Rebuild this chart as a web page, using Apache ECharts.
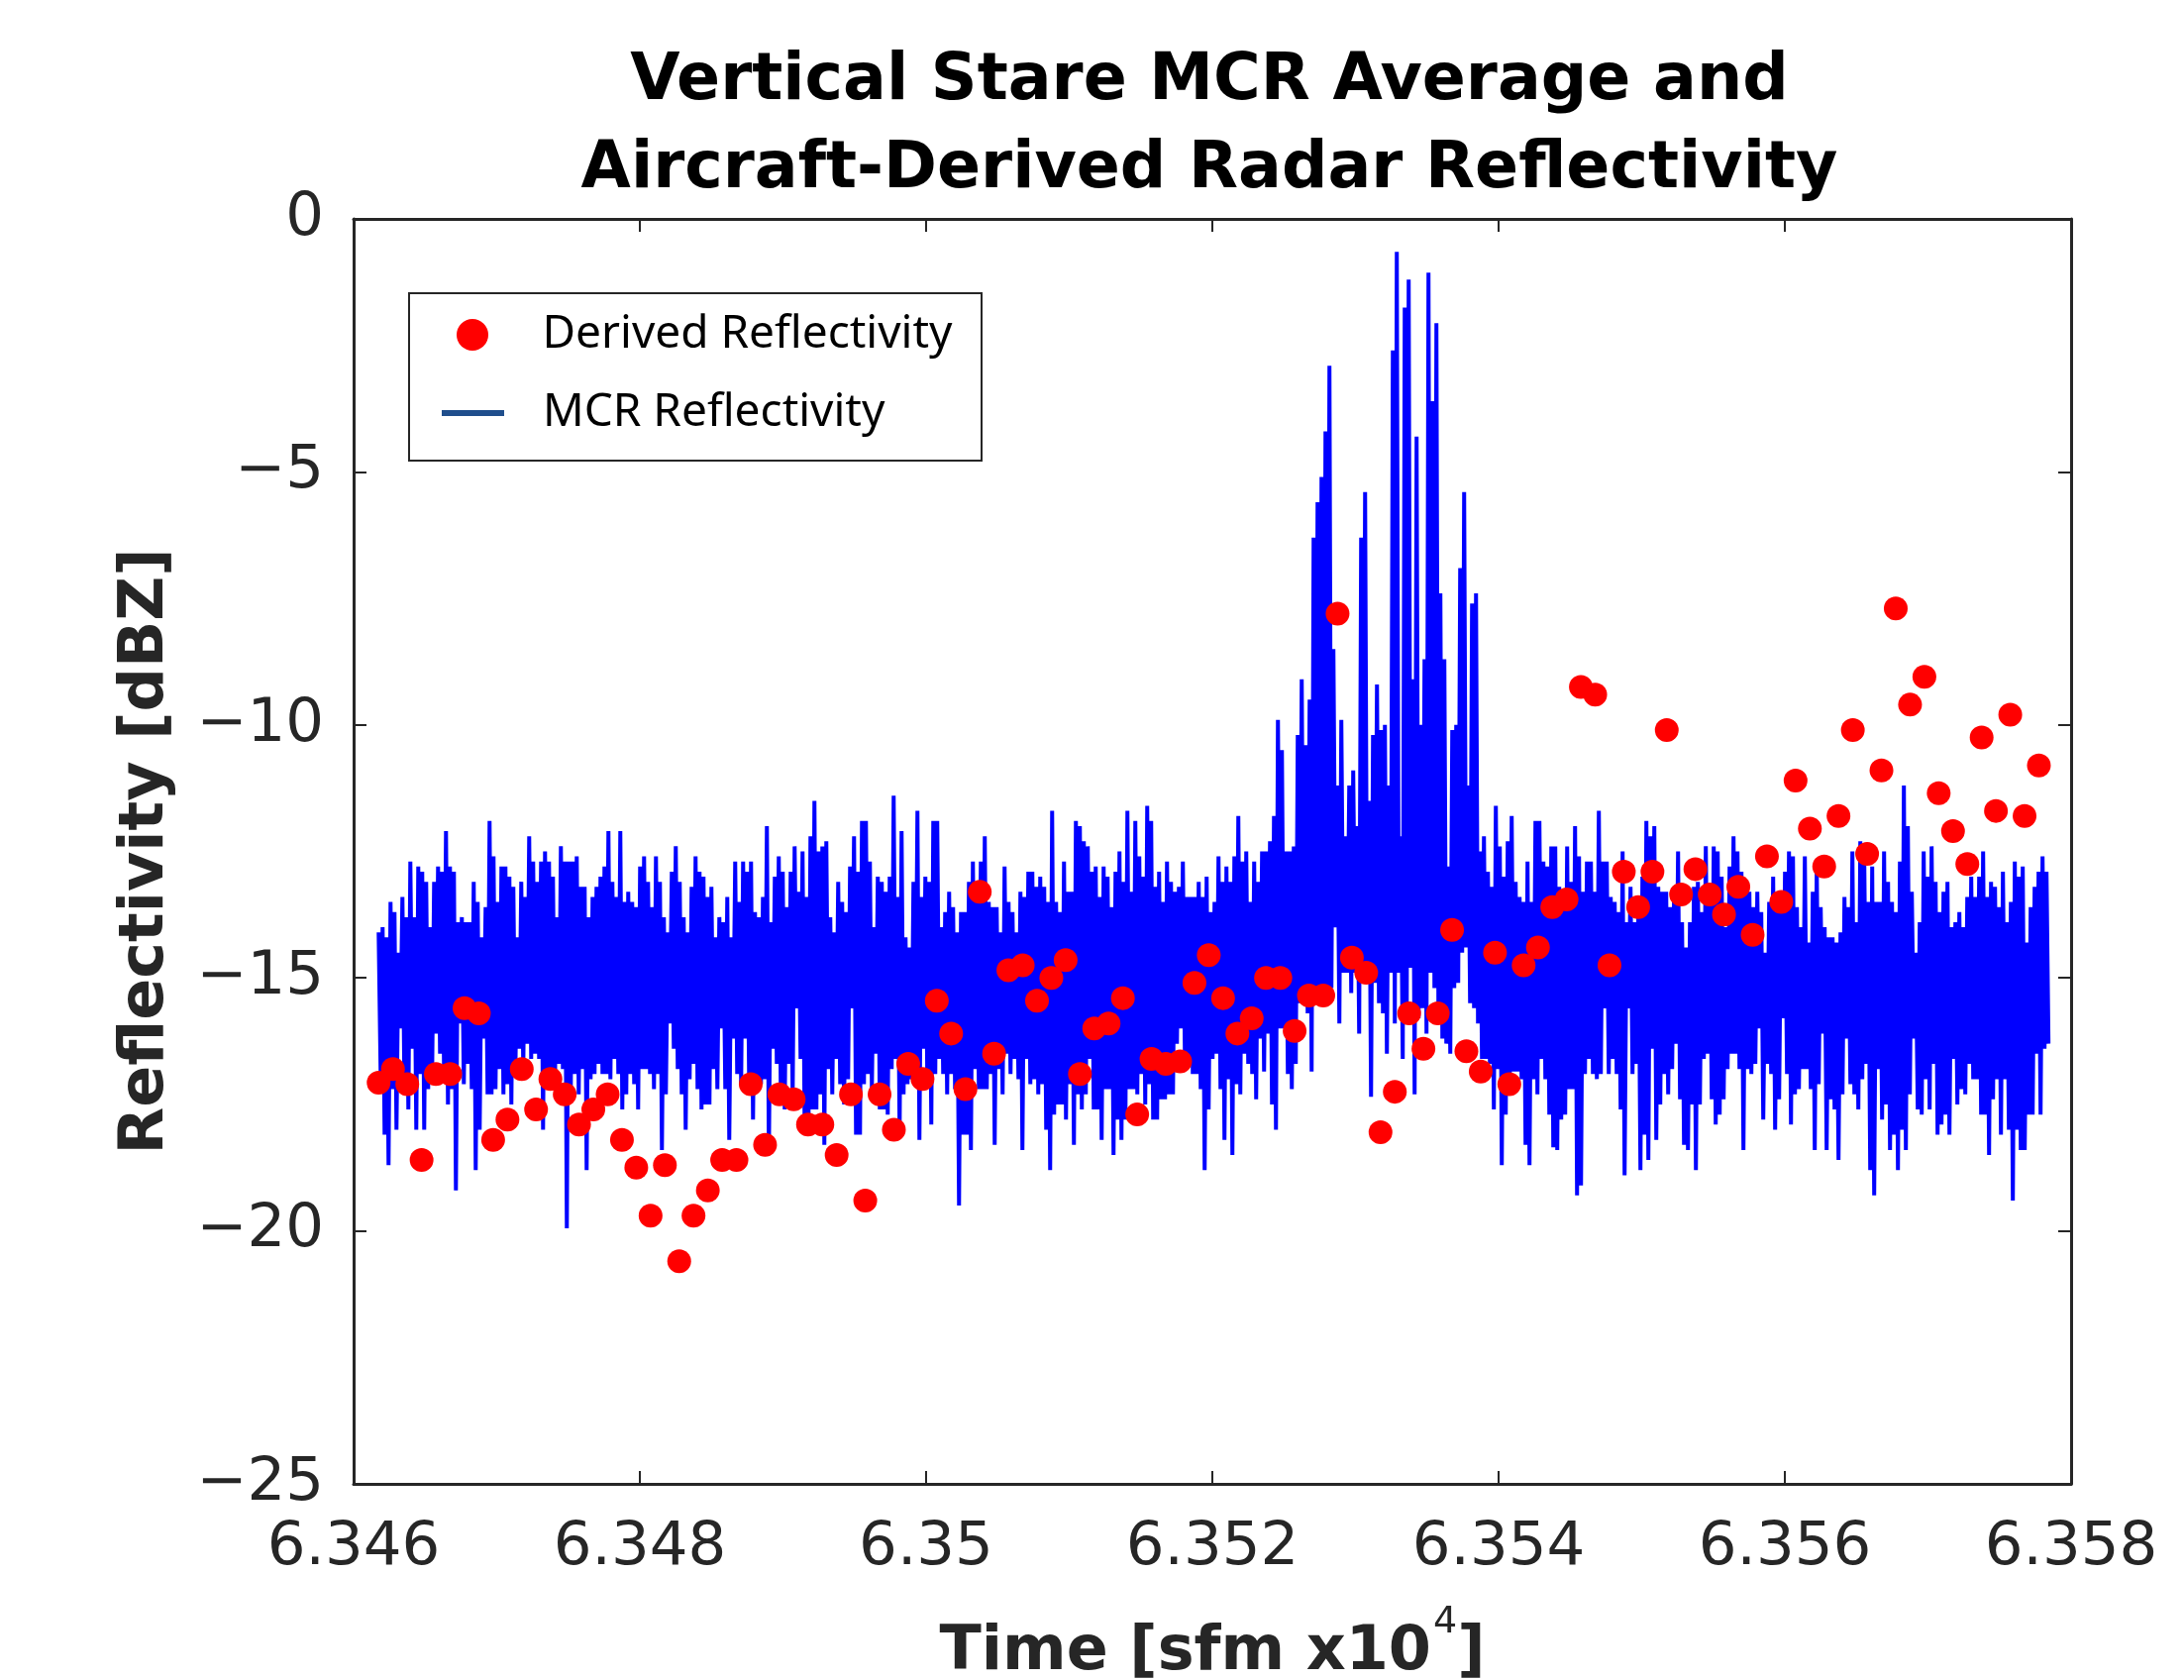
<!DOCTYPE html>
<html>
<head>
<meta charset="utf-8">
<script src="https://cdn.jsdelivr.net/npm/echarts@6/dist/echarts.min.js"></script>
<style>
html,body{margin:0;padding:0;background:#ffffff;}
#chart{width:2205px;height:1696px;}
</style>
</head>
<body>
<div id="chart"></div>
<script>
// ---------------- DATA ----------------
// time axis (seconds from midnight), labels shown in units of 1e4 sfm
const xMin = 63460, xMax = 63580, xInterval = 20;
const yMin = -25, yMax = 0, yInterval = 5;

// aircraft-derived reflectivity, one value per second
const derivedStartSfm = 63461.75;
const derivedStepSec = 1.0;
const derivedValues = [
-17.07,-16.8,-17.1,-18.6,-16.9,-16.9,-15.6,-15.7,-18.2,-17.8,
-16.8,-17.6,-17.0,-17.3,-17.9,-17.6,-17.3,-18.2,-18.75,-19.7,
-18.7,-20.6,-19.7,-19.2,-18.6,-18.6,-17.1,-18.3,-17.3,-17.4,
-17.9,-17.9,-18.5,-17.3,-19.4,-17.3,-18.0,-16.7,-17.0,-15.45,
-16.1,-17.2,-13.3,-16.5,-14.85,-14.75,-15.45,-15.0,-14.65,-16.9,
-16.0,-15.9,-15.4,-17.7,-16.6,-16.7,-16.65,-15.1,-14.55,-15.4,
-16.1,-15.8,-15.0,-15.0,-16.05,-15.35,-15.35,-7.8,-14.6,-14.9,
-18.05,-17.25,-15.7,-16.4,-15.7,-14.05,-16.45,-16.85,-14.5,-17.1,
-14.75,-14.4,-13.6,-13.45,-9.25,-9.4,-14.75,-12.9,-13.6,-12.9,
-10.1,-13.35,-12.85,-13.35,-13.75,-13.2,-14.15,-12.6,-13.5,-11.1,
-12.05,-12.8,-11.8,-10.1,-12.55,-10.9,-7.7,-9.6,-9.05,-11.35,
-12.1,-12.75,-10.25,-11.7,-9.8,-11.8,-10.8
];

// MCR reflectivity: per sample interval, the high and low excursion of the trace
const mcrStartSfm = 63461.75;
const mcrStepSec = 0.2768;
const mcrHigh = [
-14.1,-14.0,-14.2,-13.5,-13.7,-14.5,-13.4,-13.8,-12.7,-13.8,
-12.8,-12.9,-13.1,-14.0,-13.1,-12.8,-12.9,-12.1,-12.8,-12.9,
-13.9,-13.8,-13.9,-13.9,-13.1,-13.5,-14.2,-13.6,-11.9,-12.6,
-13.5,-12.8,-12.8,-13.0,-13.2,-14.2,-13.1,-13.4,-12.2,-12.7,
-13.1,-12.7,-12.5,-12.7,-13.0,-13.8,-12.4,-12.7,-12.7,-12.7,
-12.6,-13.2,-13.2,-13.8,-13.4,-13.2,-13.0,-12.8,-12.1,-13.1,
-13.4,-12.1,-13.5,-13.3,-13.5,-13.6,-12.8,
-12.6,-13.1,-13.6,-12.6,-13.1,-13.8,-14.1,-12.9,-12.4,-13.1,
-13.8,-14.1,-13.2,-12.6,-12.9,-13.0,-13.4,-13.2,-14.2,-13.8,
-13.9,-13.4,-14.2,-12.7,-13.5,-12.7,-12.9,-12.7,-13.7,-13.8,
-13.4,-12.0,-13.9,-13.0,-12.6,-12.9,-13.6,-12.9,-12.4,-13.3,
-12.5,-13.4,-12.2,-11.5,-12.5,-12.4,-12.3,-13.8,-14.1,-13.1,
-13.5,-13.7,-12.8,-12.2,-12.9,-11.9,-11.9,-12.7,-14.0,-13.0,
-13.1,-13.3,-13.0,-11.4,-13.4,-12.1,-14.2,-14.4,-13.1,-11.7,
-13.4,-13.0,-13.1,-11.9,
-11.9,-14.0,-13.7,-13.3,-13.6,-14.1,-13.7,-13.7,-13.1,-12.7,
-13.1,-12.7,-12.2,-13.5,-13.6,-13.6,-14.1,-12.8,-13.5,-13.7,
-14.1,-13.3,-13.4,-12.9,-12.9,-13.2,-13.0,-13.2,-13.5,-11.7,
-13.5,-13.7,-12.7,-13.3,-13.3,-11.9,-12.0,-12.3,-12.4,-12.9,
-12.8,-13.4,-12.8,-13.0,-13.6,-12.9,-12.5,-13.1,-11.7,-13.3,
-11.9,-12.6,-13.0,-11.6,-11.9,-13.2,-12.9,-13.5,-12.7,-13.1,
-13.3,-13.2,-12.7,-13.4,-13.4,-13.4,-13.1,-13.4,-13.0,-13.7,
-13.5,-12.6,-13.1,-12.8,-13.1,-12.6,-11.8,-12.7,-12.5,-13.5,
-12.7,
-13.1,-12.5,-12.5,-12.3,-11.8,-9.9,-10.5,-12.5,-12.5,-12.4,
-10.2,-9.1,-10.4,-9.5,-6.3,-5.6,-5.1,-4.2,-2.9,-8.5,
-11.2,-9.9,-12.2,-11.2,-10.9,-12.0,-6.3,-5.4,-11.5,-10.2,
-9.2,-10.1,-10.0,-11.2,-2.6,-0.65,-12.2,-1.75,-1.2,-9.1,
-4.3,-10.0,-8.7,-1.06,-3.6,-2.06,-7.4,-8.7,-12.8,-10.1,
-10.0,-6.9,-5.4,-11.2,-7.6,-7.4,-12.5,-12.2,-12.9,-13.2,
-11.6,-12.4,-13.0,-12.3,-11.8,-13.1,-13.4,-13.5,-12.7,-13.5,
-11.9,-11.9,-12.7,-12.8,-12.4,
-12.4,-13.2,-13.5,-12.4,-13.1,-12.0,-12.6,-13.3,-12.7,-12.7,
-13.3,-11.7,-12.7,-12.7,-13.4,-13.5,-13.7,-12.5,-13.9,-13.2,
-13.9,-13.6,-13.0,-11.9,-12.2,-12.0,-13.2,-13.3,-13.3,-13.6,
-13.3,-12.5,-13.9,-14.4,-13.9,-13.2,-13.1,-13.7,-12.4,-13.3,
-12.4,-12.5,-13.0,-14.0,-12.8,-12.2,-12.5,-12.9,-13.3,-13.3,
-13.6,-13.3,-13.7,-14.5,-13.5,-13.0,-13.7,-13.5,-12.9,-12.5,
-12.6,-13.6,-14.0,
-12.6,-14.3,-13.3,-12.8,-13.6,-14.0,-14.2,-14.2,-14.3,-14.1,
-13.4,-13.6,-12.5,-13.9,-12.3,-12.7,-13.5,-12.8,-13.5,-13.5,
-12.5,-13.1,-13.5,-13.7,-12.7,-11.2,-12.0,-13.3,-14.5,-13.9,
-12.5,-13.0,-12.4,-13.1,-13.7,-13.3,-13.1,-14.0,-13.9,-13.7,
-14.0,-13.4,-13.0,-13.4,-13.0,-12.5,-13.4,-13.1,-13.2,-13.6,
-12.9,-13.9,-13.5,-12.7,-13.0,-12.8,-14.3,-13.6,-13.2,-12.9,
-12.6,-12.9
];
const mcrLow = [
-16.9,-18.1,-18.7,-17.2,-18.0,-16.0,-17.1,-17.6,-16.4,-18.0,
-16.9,-18.0,-17.2,-16.9,-16.1,-16.5,-16.8,-17.5,-17.2,-19.2,
-15.9,-17.1,-16.7,-17.2,-18.8,-18.0,-16.2,-17.3,-17.3,-17.2,
-16.8,-17.3,-17.1,-17.5,-16.9,-16.4,-16.8,-16.3,-16.6,-16.5,
-16.6,-18.0,-17.2,-16.9,-17.1,-16.7,-16.8,-19.95,-17.2,-16.9,
-17.3,-16.8,-18.8,-17.0,-16.9,-16.7,-16.9,-16.9,-17.0,-16.6,
-16.9,-17.6,-17.3,-16.9,-17.1,-17.6,-16.8,
-16.8,-16.9,-17.2,-16.9,-18.4,-17.3,-15.9,-16.4,-16.8,-17.3,
-18.0,-17.0,-16.7,-17.2,-17.6,-17.5,-17.5,-16.8,-17.2,-16.0,
-17.2,-18.2,-16.2,-16.9,-17.1,-16.2,-16.9,-17.8,-17.0,-17.1,
-17.0,-18.5,-16.4,-16.7,-17.2,-17.6,-16.7,-17.4,-15.6,-16.6,
-17.7,-17.9,-17.6,-17.6,-17.3,-18.3,-16.8,-17.3,-16.6,-17.1,
-17.5,-17.0,-15.6,-18.1,-18.1,-17.1,-16.9,-17.2,-16.5,-17.6,
-17.6,-17.7,-16.8,-16.6,-18.1,-17.3,-17.1,-17.0,-16.6,-18.2,
-16.4,-17.1,-17.9,-16.9,
-16.6,-16.9,-17.3,-16.9,-17.2,-19.5,-18.1,-18.1,-18.4,-16.8,
-17.2,-17.2,-17.2,-16.9,-18.3,-16.8,-17.3,-16.5,-16.9,-16.6,
-17.0,-18.4,-16.6,-17.1,-17.0,-17.3,-17.1,-18.0,-18.8,-17.7,
-17.5,-17.5,-17.8,-17.1,-18.3,-17.3,-17.6,-17.3,-16.6,-17.6,
-17.6,-18.2,-17.2,-17.2,-18.5,-17.8,-18.2,-17.8,-17.2,-17.2,
-17.3,-16.9,-17.5,-17.1,-17.8,-17.8,-17.4,-17.4,-17.3,-17.3,
-16.3,-16.0,-16.5,-16.6,-16.9,-16.9,-17.2,-18.8,-17.6,-16.6,
-16.5,-17.2,-18.2,-17.0,-18.5,-17.1,-17.3,-16.5,-16.7,-16.9,
-17.4,
-16.2,-16.85,-16.1,-17.5,-18.0,-16.0,-16.0,-16.9,-17.2,-16.7,
-15.5,-15.5,-15.7,-16.85,-15.2,-15.2,-15.2,-15.2,-15.2,-14.0,
-15.9,-14.9,-14.9,-15.3,-14.9,-16.1,-14.9,-14.9,-17.35,-15.1,
-15.5,-15.7,-16.5,-14.9,-15.9,-14.9,-16.6,-15.8,-14.8,-17.3,
-15.8,-15.6,-16.1,-14.9,-15.2,-15.5,-16.2,-16.3,-16.5,-15.2,
-15.1,-14.5,-14.4,-15.5,-15.6,-15.9,-16.6,-16.6,-16.7,-17.6,
-16.8,-18.7,-17.7,-17.1,-16.85,-16.85,-17.0,-18.3,-18.7,-17.0,
-17.3,-16.6,-17.0,-17.7,-18.35,
-18.4,-17.8,-17.7,-17.2,-17.2,-19.3,-19.1,-16.9,-16.6,-16.9,
-17.0,-16.9,-15.6,-16.9,-16.6,-16.9,-17.6,-18.9,-15.6,-16.9,
-16.7,-18.8,-18.1,-18.6,-16.4,-18.2,-17.5,-16.9,-17.3,-16.8,
-16.3,-17.4,-18.3,-18.4,-17.5,-18.8,-17.5,-16.6,-16.5,-17.4,
-17.9,-17.7,-17.4,-16.8,-16.5,-16.5,-16.8,-18.4,-16.8,-16.9,
-16.7,-16.0,-17.8,-16.7,-16.9,-18.0,-17.4,-15.8,-16.9,-17.9,
-17.3,-17.2,-16.8,
-16.8,-17.2,-18.4,-17.1,-16.1,-18.4,-17.4,-17.6,-18.6,-17.3,
-16.2,-17.1,-17.3,-17.6,-17.0,-16.7,-18.8,-19.3,-16.8,-17.8,
-17.5,-18.4,-18.1,-18.8,-18.0,-18.4,-17.3,-16.2,-17.6,-17.7,
-17.0,-17.6,-16.7,-18.1,-17.9,-17.7,-18.1,-16.6,-17.5,-17.2,
-17.3,-16.7,-17.0,-17.0,-17.7,-17.7,-18.5,-17.4,-17.0,-18.1,
-17.0,-18.0,-19.4,-18.0,-18.4,-18.4,-17.7,-17.7,-16.5,-17.7,
-16.4,-16.3
];

// ---------------- BUILD ----------------
const mcrData = [];
const nCols = Math.min(mcrHigh.length, mcrLow.length);
for (let k = 0; k < nCols; k++) {
  mcrData.push([mcrStartSfm + k * mcrStepSec, mcrHigh[k]]);
  mcrData.push([mcrStartSfm + (k + 0.5) * mcrStepSec, mcrLow[k]]);
}
const derivedData = derivedValues.map((v, i) => [derivedStartSfm + i * derivedStepSec, v]);

const FONT = 'DejaVu Sans';
const LEGEND_FONT = 'Noto Sans';
const AXIS_COLOR = '#262626';

function xLabel(v) { return String(+(v / 1e4).toFixed(4)); }
function yLabel(v) { return v < 0 ? '\u2212' + Math.abs(v) : String(v); }

const tickStyle = { show: true, inside: true, length: 13, lineStyle: { color: AXIS_COLOR, width: 2 } };
const lineStyleAxis = { show: true, onZero: false, lineStyle: { color: AXIS_COLOR, width: 3 } };

const chart = echarts.init(document.getElementById('chart'), null, { renderer: 'canvas', width: 2205, height: 1696 });

const option = {
  animation: false,
  backgroundColor: '#ffffff',
  title: {
    text: 'Vertical Stare MCR Average and\nAircraft-Derived Radar Reflectivity',
    left: 1221, top: 39, padding: 0, textAlign: 'center',
    textStyle: { fontFamily: FONT, fontWeight: 'bold', fontSize: 65, lineHeight: 89, color: '#000000' }
  },
  grid: { left: 357, top: 221, width: 1734, height: 1277, containLabel: false, outerBoundsMode: 'none' },
  xAxis: [
    {
      type: 'value', min: xMin, max: xMax, interval: xInterval, position: 'bottom',
      axisLine: lineStyleAxis, axisTick: tickStyle, splitLine: { show: false },
      axisLabel: { show: true, margin: 35, fontFamily: FONT, fontSize: 61, color: AXIS_COLOR, formatter: xLabel, hideOverlap: false },
      name: '{m|Time [sfm x10}{sup|4}{m|]}', nameLocation: 'middle', nameGap: 121, nameMoveOverlap: false,
      nameTextStyle: {
        rich: {
          m: { fontFamily: FONT, fontWeight: 'bold', fontSize: 62, lineHeight: 100, color: AXIS_COLOR },
          sup: { fontFamily: FONT, fontSize: 38, lineHeight: 38, color: AXIS_COLOR, verticalAlign: 'top', padding: [0, 0, 0, 2] }
        }
      }
    },
    {
      type: 'value', min: xMin, max: xMax, interval: xInterval, position: 'top',
      axisLine: lineStyleAxis, axisTick: tickStyle, splitLine: { show: false }, axisLabel: { show: false }
    }
  ],
  yAxis: [
    {
      type: 'value', min: yMin, max: yMax, interval: yInterval, position: 'left',
      axisLine: lineStyleAxis, axisTick: tickStyle, splitLine: { show: false },
      axisLabel: { show: true, margin: 30, fontFamily: FONT, fontSize: 61, color: AXIS_COLOR, formatter: yLabel, hideOverlap: false },
      name: 'Reflectivity [dBZ]', nameLocation: 'middle', nameGap: 178, nameMoveOverlap: false,
      nameTextStyle: { fontFamily: FONT, fontWeight: 'bold', fontSize: 62, color: AXIS_COLOR }
    },
    {
      type: 'value', min: yMin, max: yMax, interval: yInterval, position: 'right',
      axisLine: lineStyleAxis, axisTick: tickStyle, splitLine: { show: false }, axisLabel: { show: false }
    }
  ],
  graphic: [
    { type: 'rect', z: 3, shape: { x: 413, y: 296, width: 578, height: 169 },
      style: { fill: '#ffffff', stroke: AXIS_COLOR, lineWidth: 2 } }
  ],
  legend: [
    {
      left: 461, top: 315, padding: 0, itemWidth: 63, itemHeight: 32, selectedMode: false, z: 5,
      data: [{ name: 'Derived Reflectivity', icon: 'circle', itemStyle: { color: '#ff0000', borderWidth: 0 } }],
      textStyle: { fontFamily: LEGEND_FONT, fontSize: 46, color: '#000000', padding: [0, 0, 0, 34] }
    },
    {
      left: 446, top: 394, padding: 0, itemWidth: 63, itemHeight: 6, selectedMode: false, z: 5,
      data: [{ name: 'MCR Reflectivity', icon: 'rect', itemStyle: { color: '#1f4e8c', borderWidth: 0 } }],
      textStyle: { fontFamily: LEGEND_FONT, fontSize: 46, color: '#000000', padding: [0, 0, 0, 34] }
    }
  ],
  series: [
    {
      type: 'line', name: 'MCR Reflectivity', data: mcrData, xAxisIndex: 0, yAxisIndex: 0,
      showSymbol: false, symbol: 'none', silent: true, z: 2,
      lineStyle: { color: '#0000ff', width: 4 }, itemStyle: { color: '#0000ff' }
    },
    {
      type: 'scatter', name: 'Derived Reflectivity', data: derivedData, xAxisIndex: 0, yAxisIndex: 0,
      symbol: 'circle', symbolSize: 24, silent: true, z: 3,
      itemStyle: { color: '#ff0000', opacity: 1 }
    }
  ]
};
chart.setOption(option);
</script>
</body>
</html>
